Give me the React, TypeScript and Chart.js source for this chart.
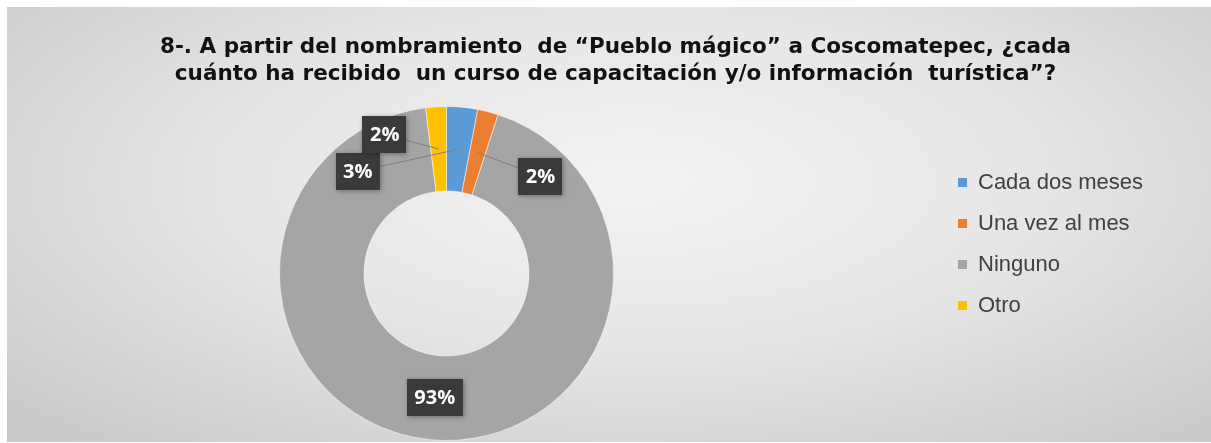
import { useEffect, useRef } from 'react';
import { Chart, registerables } from 'chart.js';

Chart.register(...registerables);

// ---------- data ----------
const TITLE_LINES = [
  '8-. A partir del nombramiento  de “Pueblo mágico” a Coscomatepec, ¿cada',
  'cuánto ha recibido  un curso de capacitación y/o información  turística”?',
];
const CATEGORIES = ['Cada dos meses', 'Una vez al mes', 'Ninguno', 'Otro'];
const VALUES = [3, 2, 93, 2];

// ---------- styles ----------
const COLORS = ['#5B9BD5', '#ED7D31', '#A5A5A5', '#FFC000'];
// callout placement for small slices: angle (deg, clockwise from 12 o'clock) and distance as a fraction of the outer radius
const CALLOUTS: ({ angle: number; dist: number } | null)[] = [
  { angle: -41, dist: 0.81 },
  { angle: 44, dist: 0.81 },
  null,
  { angle: -24, dist: 0.91 },
];
const TITLE_CENTER_X = 608.5;
const LEGEND_BOX_LEFT = 951;
const LEGEND_FIRST_ROW_TOP = 164.5;

const placementPlugin = {
  id: 'placement',
  afterLayout(chart: any) {
    const lg = chart.legend;
    if (lg) {
      const pad = lg.options.labels.padding;
      const h = lg.height;
      lg.left = LEGEND_BOX_LEFT - pad;
      lg.right = chart.width;
      lg.width = lg.right - lg.left;
      lg.top = LEGEND_FIRST_ROW_TOP - pad;
      lg.bottom = lg.top + h;
    }
    const t = chart.titleBlock;
    if (t) {
      const w = t.right - t.left;
      t.left = TITLE_CENTER_X - w / 2;
      t.right = t.left + w;
    }
  },
};

const sliceLabelPlugin = {
  id: 'sliceLabels',
  afterDatasetsDraw(chart: any) {
    const ctx: CanvasRenderingContext2D = chart.ctx;
    const meta = chart.getDatasetMeta(0);
    const data = chart.data.datasets[0].data as number[];
    const total = data.reduce((a, b) => a + b, 0);
    ctx.save();
    ctx.font = 'bold 20px "Open Sans"';
    meta.data.forEach((arc: any, i: number) => {
      const { x, y, outerRadius } = arc.getProps(['x', 'y', 'outerRadius'], true);
      const anchor = arc.getCenterPoint(true);
      const place = CALLOUTS[i];
      let lx = anchor.x;
      let ly = anchor.y;
      if (place) {
        const a = ((place.angle - 90) * Math.PI) / 180;
        lx = x + Math.cos(a) * outerRadius * place.dist;
        ly = y + Math.sin(a) * outerRadius * place.dist;
        ctx.beginPath();
        ctx.strokeStyle = '#808080';
        ctx.lineWidth = 1;
        ctx.moveTo(anchor.x, anchor.y);
        ctx.lineTo(lx, ly);
        ctx.stroke();
      }
      const text = `${Math.round((data[i] / total) * 100)}%`;
      const tw = ctx.measureText(text).width;
      const bw = tw + 15;
      const bh = 37;
      ctx.save();
      ctx.shadowColor = 'rgba(0,0,0,0.35)';
      ctx.shadowBlur = 5;
      ctx.shadowOffsetX = 1;
      ctx.shadowOffsetY = 1;
      ctx.fillStyle = '#3a3a3a';
      ctx.fillRect(Math.round(lx - bw / 2), Math.round(ly - bh / 2), Math.round(bw), bh);
      ctx.restore();
      ctx.fillStyle = '#ffffff';
      ctx.textAlign = 'center';
      ctx.textBaseline = 'middle';
      ctx.fillText(text, lx, ly + 1);
    });
    ctx.restore();
  },
};

export default function App() {
  const canvasRef = useRef<HTMLCanvasElement | null>(null);

  useEffect(() => {
    if (!canvasRef.current) return;
    const baseGen = (Chart as any).overrides.doughnut.plugins.legend.labels.generateLabels;
    const chart = new Chart(canvasRef.current, {
      type: 'doughnut',
      data: {
        labels: CATEGORIES,
        datasets: [
          {
            data: VALUES,
            backgroundColor: COLORS,
            borderColor: 'rgba(255,255,255,0.5)',
            borderWidth: 1,
          },
        ],
      },
      options: {
        responsive: false,
        animation: false,
        events: [],
        radius: 167,
        cutout: '49.4%',
        layout: { padding: { left: 0, right: 125, top: 0, bottom: 0 } },
        plugins: {
          tooltip: { enabled: false },
          title: {
            display: true,
            text: TITLE_LINES,
            color: '#111111',
            font: { family: 'DejaVu Sans', weight: 'bold', size: 21.5, lineHeight: 27 / 21.5 },
            padding: { top: 27, bottom: 17 },
          },
          legend: {
            display: true,
            position: 'right',
            align: 'start',
            maxWidth: 200,
            labels: {
              boxWidth: 9,
              boxHeight: 9,
              padding: 19,
              color: '#404040',
              font: { family: 'Liberation Sans', size: 22 },
              generateLabels: (c: any) =>
                baseGen(c).map((l: any) => ({ ...l, lineWidth: 0, strokeStyle: 'transparent' })),
            },
          },
        },
      } as any,
      plugins: [placementPlugin, sliceLabelPlugin],
    });
    return () => chart.destroy();
  }, []);

  return (
    <div
      style={{
        position: 'absolute',
        left: 7,
        top: 7,
        width: 1204,
        height: 435,
        background:
          'radial-gradient(ellipse 70% 80% at 52% 40%, #f3f3f3 0%, #e5e5e5 50%, #c9c9c9 100%)',
      }}
    >
      <canvas ref={canvasRef} width={1204} height={435} style={{ display: 'block' }} />
    </div>
  );
}
